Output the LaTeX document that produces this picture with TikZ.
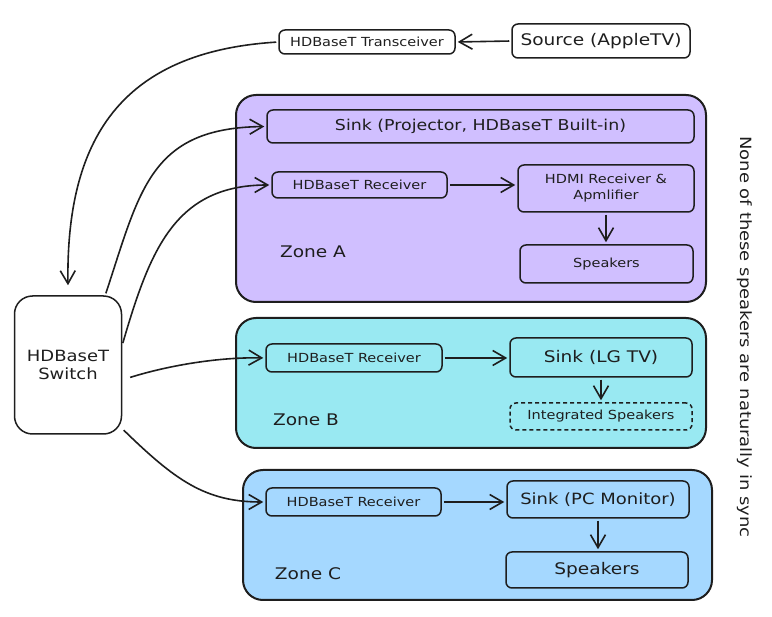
\documentclass[tikz,border=0pt]{standalone}
\usepackage{fontspec}
\setmainfont{DejaVu Sans}[FakeStretch=1.16]
\usetikzlibrary{arrows.meta,calc}
\definecolor{ink}{HTML}{1E1E1E}
\definecolor{zoneA}{HTML}{D0BFFF}
\definecolor{zoneB}{HTML}{99E9F2}
\definecolor{zoneC}{HTML}{A5D8FF}
\newcommand{\fs}[1]{\fontsize{#1}{#1}\selectfont}
\tikzset{
  box/.style={draw=ink, line width=1.5pt, rounded corners=6pt, inner sep=0pt, align=center, text=ink},
  zonebox/.style={draw=ink, line width=2pt, rounded corners=20pt, inner sep=0pt},
  conn/.style={draw=ink, line width=1.6pt, -{Straight Barb[length=13pt,width=15pt,line width=1.6pt]}, shorten >=2pt, shorten <=2pt},
  lbl/.style={text=ink, inner sep=0pt}
}
\begin{document}
\begin{tikzpicture}[x=1pt,y=-1pt]
\useasboundingbox (0,0) rectangle (772,617);
% zones
\node[zonebox, fill=zoneA, minimum width=470pt, minimum height=207pt] (zA) at (471,198.5) {};
\node[zonebox, fill=zoneB, minimum width=470pt, minimum height=130pt] (zB) at (471,383) {};
\node[zonebox, fill=zoneC, minimum width=469pt, minimum height=130pt] (zC) at (477.5,535) {};
% top
\node[box, minimum width=178pt, minimum height=34pt] (src) at (601,41) {\fs{16}Source (AppleTV)};
\node[box, minimum width=176pt, minimum height=24pt] (trans) at (367,42) {\fs{12.5}HDBaseT Transceiver};
\node[box, rounded corners=18pt, minimum width=107pt, minimum height=138pt] (sw) at (68,365) {\fs{15.5}HDBaseT\\[6pt]\fs{15.5}Switch};
% zone A
\node[box, minimum width=427pt, minimum height=33pt] (proj) at (480.5,126.5) {\fs{15}Sink (Projector, HDBaseT Built-in)};
\node[box, minimum width=175pt, minimum height=26pt] (recA) at (359.5,185) {\fs{12.5}HDBaseT Receiver};
\node[box, minimum width=176pt, minimum height=47pt] (hdmi) at (606,188.5) {\fs{12.5}HDMI Receiver \&\\[4pt]\fs{12.5}Apmlifier};
\node[box, minimum width=173pt, minimum height=38pt] (spkA) at (606.5,264) {\fs{12.5}Speakers};
\node[lbl] (labA) at (313,252) {\fs{16}Zone A};
% zone B
\node[box, minimum width=176pt, minimum height=28pt] (recB) at (354,358) {\fs{12.5}HDBaseT Receiver};
\node[box, minimum width=182pt, minimum height=39pt] (lgtv) at (601,357.5) {\fs{16}Sink (LG TV)};
\node[box, dash pattern=on 4pt off 3pt, minimum width=182pt, minimum height=27pt] (intsp) at (601,416.5) {\fs{12.5}Integrated Speakers};
\node[lbl] (labB) at (306,420) {\fs{16}Zone B};
% zone C
\node[box, minimum width=175pt, minimum height=28pt] (recC) at (353.5,502) {\fs{12.5}HDBaseT Receiver};
\node[box, minimum width=182pt, minimum height=37pt] (pcm) at (598,499.5) {\fs{15.5}Sink (PC Monitor)};
\node[box, minimum width=182pt, minimum height=36pt] (spkC) at (597,570) {\fs{16}Speakers};
\node[lbl] (labC) at (308,574) {\fs{16}Zone C};
% side note
\node[lbl, rotate=-90] (note) at (745,337) {\fs{15.5}None of these speakers are naturally in sync};
% connectors
\draw[conn] (src.west) -- (trans.east);
\draw[conn] (trans.west) .. controls (120,52) and (66,140) .. ($(sw.north)+(0,-8)$);
\draw[conn] ($(sw.north east)+(-17,0)$) .. controls (140,190) and (150,128) .. (proj.west);
\draw[conn] ($(sw.east)+(0,-20)$) .. controls (150,250) and (175,185) .. (recA.west);
\draw[conn] ($(sw.east)+(6,13)$) .. controls (170,365) and (220,357) .. (recB.west);
\draw[conn] ($(sw.south east)+(0,-6)$) .. controls (175,480) and (205,502) .. (recC.west);
\draw[conn] (recA.east) -- (hdmi.west |- recA.east);
\draw[conn] (hdmi.south) -- (spkA.north -| hdmi.south);
\draw[conn] (recB.east) -- (lgtv.west |- recB.east);
\draw[conn] (lgtv.south) -- (intsp.north -| lgtv.south);
\draw[conn] (recC.east) -- (pcm.west |- recC.east);
\draw[conn] (pcm.south) -- (spkC.north -| pcm.south);
\end{tikzpicture}
\end{document}
